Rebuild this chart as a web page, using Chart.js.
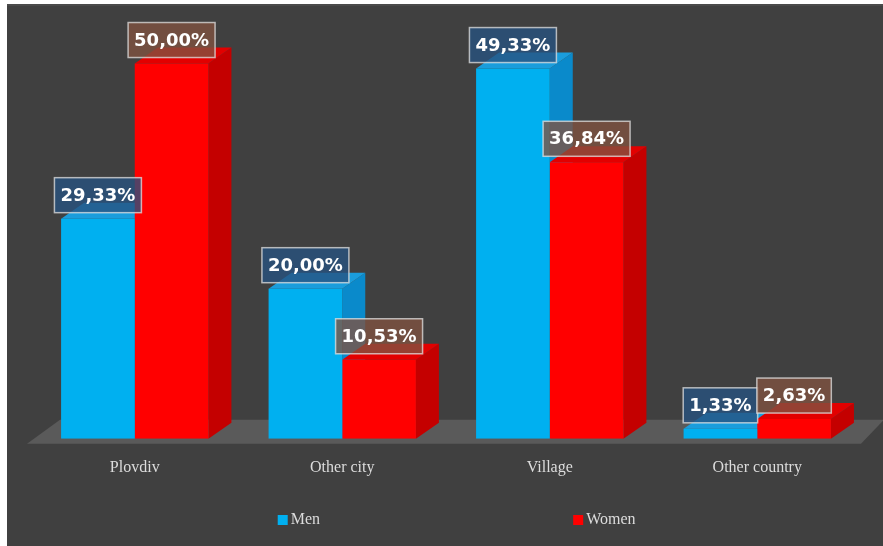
<!DOCTYPE html>
<html>
<head>
<meta charset="utf-8">
<script src="https://cdn.jsdelivr.net/npm/chart.js@4/dist/chart.umd.min.js"></script>
<style>
    html, body { margin: 0; padding: 0; background: #ffffff; }
    #wrap {
        position: absolute;
        left: 7px;
        top: 4px;
        width: 876px;
        height: 542px;
        background: #404040;
        border-top: 2px solid #4a4a4a;
        box-sizing: border-box;
    }
</style>
</head>
<body>
<div id="wrap"><canvas id="residenceChart" width="876" height="540"></canvas></div>
<script>
// Place of residence, share of respondents (%)
const categories = ['Plovdiv', 'Other city', 'Village', 'Other country'];
const seriesNames = ['Men', 'Women'];
const menValues = [29.33, 20.00, 49.33, 1.33];
const womenValues = [50.00, 10.53, 36.84, 2.63];

// front / side / top shades for the fake 3D boxes, and label box fills
const faceColors = [
    { front: '#00b0f0', side: '#0a8acb', top: '#1a9ddc', label: 'rgba(38, 82, 128, 0.78)' },
    { front: '#ff0000', side: '#c40000', top: '#e20000', label: 'rgba(128, 82, 64, 0.78)' }
];
const DEPTH_X = 23;
const DEPTH_Y = -16;

function fmtPercent(v) {
    return v.toFixed(2).replace('.', ',') + '%';
}

/**
 * Floor slab plus side and top faces, drawn under the flat bar fronts
 */
const boxFaces = {
    id: 'boxFaces',
    beforeDatasetsDraw(chart) {
        const { ctx, chartArea } = chart;
        const base = chart.scales.y.getPixelForValue(0);

        ctx.save();
        ctx.fillStyle = '#5a5a5a';
        ctx.beginPath();
        ctx.moveTo(chartArea.left - 4, base + 5);
        ctx.lineTo(chartArea.left + DEPTH_X + 6, base + DEPTH_Y - 3);
        ctx.lineTo(chartArea.right + DEPTH_X, base + DEPTH_Y - 3);
        ctx.lineTo(chartArea.right, base + 5);
        ctx.closePath();
        ctx.fill();

        categories.forEach((cat, idx) => {
            chart.data.datasets.forEach((ds, di) => {
                const bar = chart.getDatasetMeta(di).data[idx];
                const p = bar.getProps(['x', 'y', 'base', 'width'], true);
                const l = p.x - p.width / 2;
                const r = p.x + p.width / 2;
                const c = faceColors[di];

                ctx.fillStyle = c.side;
                ctx.beginPath();
                ctx.moveTo(r, p.base);
                ctx.lineTo(r + DEPTH_X, p.base + DEPTH_Y);
                ctx.lineTo(r + DEPTH_X, p.y + DEPTH_Y);
                ctx.lineTo(r, p.y);
                ctx.closePath();
                ctx.fill();

                ctx.fillStyle = c.top;
                ctx.beginPath();
                ctx.moveTo(l, p.y);
                ctx.lineTo(l + DEPTH_X, p.y + DEPTH_Y);
                ctx.lineTo(r + DEPTH_X, p.y + DEPTH_Y);
                ctx.lineTo(r, p.y);
                ctx.closePath();
                ctx.fill();
            });
        });
        ctx.restore();
    }
};

/**
 * Boxed value labels above each bar
 */
const valueBoxes = {
    id: 'valueBoxes',
    afterDatasetsDraw(chart) {
        const { ctx } = chart;
        ctx.save();
        ctx.font = 'bold 18px "DejaVu Sans"';
        ctx.textAlign = 'center';
        ctx.textBaseline = 'middle';
        chart.data.datasets.forEach((ds, di) => {
            chart.getDatasetMeta(di).data.forEach((bar, i) => {
                const text = fmtPercent(ds.data[i]);
                const w = ctx.measureText(text).width + 12;
                const h = 35;
                const bottom = bar.y - 6;
                const left = bar.x - w / 2;
                ctx.fillStyle = faceColors[di].label;
                ctx.fillRect(left, bottom - h, w, h);
                ctx.strokeStyle = 'rgba(225, 225, 225, 0.75)';
                ctx.lineWidth = 1.5;
                ctx.strokeRect(left, bottom - h, w, h);
                ctx.fillStyle = '#ffffff';
                ctx.fillText(text, bar.x, bottom - h / 2 + 1);
            });
        });
        ctx.restore();
    }
};

/**
 * Legend row under the axis labels
 */
const legendSlots = [0.337, 0.693];
const bottomLegend = {
    id: 'bottomLegend',
    afterDraw(chart) {
        const { ctx, chartArea } = chart;
        const y = chart.height - 26;
        ctx.save();
        ctx.font = '16px "Liberation Serif"';
        ctx.textBaseline = 'middle';
        ctx.textAlign = 'left';
        chart.data.datasets.forEach((ds, di) => {
            const x = chartArea.left + (chartArea.right - chartArea.left) * legendSlots[di];
            ctx.fillStyle = ds.backgroundColor;
            ctx.fillRect(x - 33, y - 5, 10, 10);
            ctx.fillStyle = '#dcdcdc';
            ctx.fillText(ds.label, x - 20, y);
        });
        ctx.restore();
    }
};

new Chart(document.getElementById('residenceChart'), {
    type: 'bar',
    data: {
        labels: categories,
        datasets: [
            { label: seriesNames[0], data: menValues, backgroundColor: faceColors[0].front },
            { label: seriesNames[1], data: womenValues, backgroundColor: faceColors[1].front }
        ]
    },
    options: {
        responsive: false,
        animation: false,
        layout: { padding: { left: 24, right: 22, top: 20, bottom: 50 } },
        datasets: {
            bar: { categoryPercentage: 0.71, barPercentage: 1.0, borderWidth: 0 }
        },
        plugins: {
            legend: { display: false },
            tooltip: { enabled: false }
        },
        scales: {
            y: {
                display: false,
                min: 0,
                max: 55
            },
            x: {
                grid: { display: false, drawTicks: false },
                border: { display: false },
                ticks: {
                    padding: 19,
                    color: '#dcdcdc',
                    font: { family: '"Liberation Serif"', size: 16 }
                }
            }
        }
    },
    plugins: [boxFaces, valueBoxes, bottomLegend]
});
</script>
</body>
</html>
